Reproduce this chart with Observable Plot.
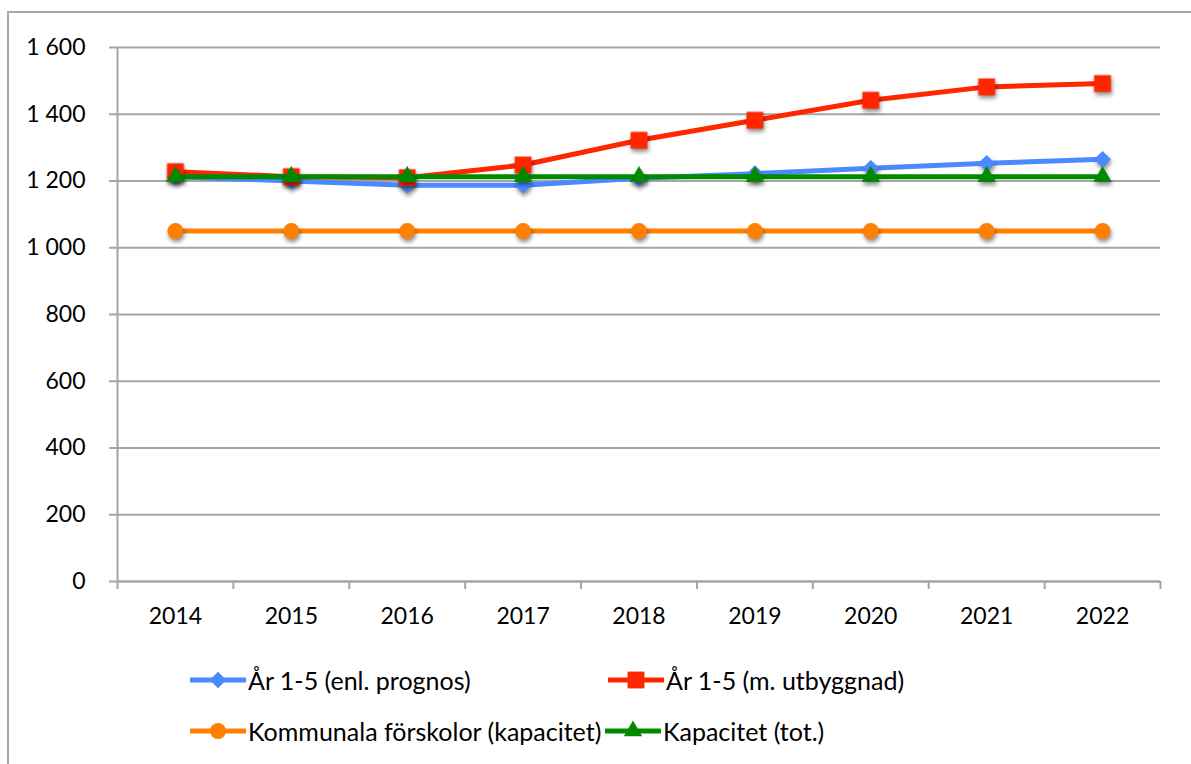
<!DOCTYPE html>
<html>
<head>
<meta charset="utf-8">
<script src="https://cdn.jsdelivr.net/npm/d3@7"></script>
<script src="https://cdn.jsdelivr.net/npm/@observablehq/plot@0.6"></script>
<style>
  html, body { margin: 0; padding: 0; background: #fff; }
  #wrap { position: relative; width: 1191px; height: 764px; overflow: hidden; font-family: Lato, "Open Sans", sans-serif; }
  #frame { position: absolute; left: 7px; top: 11px; width: 1300px; height: 900px; border: 2px solid #a8a8a8; box-sizing: border-box; }
  #chart { position: absolute; left: 0; top: 0; }
  #chart svg g[aria-label="dot"] { filter: drop-shadow(1px 3px 2px rgba(0,0,0,0.45)); }
  .leg { position: absolute; display: flex; align-items: center; font-size: 25px; color: #000; white-space: nowrap; }
  .leg svg { display: block; margin-right: 2px; }
</style>
</head>
<body>
<div id="wrap">
  <div id="frame"></div>
  <div id="chart"></div>
  <div id="legend"></div>
</div>
<script>
// ---- data ----
const years = [2014, 2015, 2016, 2017, 2018, 2019, 2020, 2021, 2022];
const prognos = [1213, 1200, 1187, 1187, 1208, 1222, 1238, 1253, 1265];
const utbyggnad = [1228, 1213, 1210, 1248, 1322, 1382, 1442, 1482, 1492];
const kommunala = [1050, 1050, 1050, 1050, 1050, 1050, 1050, 1050, 1050];
const kapacitet = [1213, 1213, 1213, 1213, 1213, 1213, 1213, 1213, 1213];
const seriesNames = ["År 1-5 (enl. prognos)", "År 1-5 (m. utbyggnad)", "Kommunala förskolor (kapacitet)", "Kapacitet (tot.)"];
const seriesValues = [prognos, utbyggnad, kommunala, kapacitet];
const seriesColors = ["#4a89ff", "#ff2600", "#ff8000", "#008a00"];
const seriesSymbols = ["diamond2", "square", "circle", "triangle"];
const seriesR = [7.5, 9.5, 8, 6.8];
const yTicks = [0, 200, 400, 600, 800, 1000, 1200, 1400, 1600];
const xBounds = [2013.5, 2014.5, 2015.5, 2016.5, 2017.5, 2018.5, 2019.5, 2020.5, 2021.5, 2022.5];

const rows = seriesValues.map((vals, i) => years.map((y, j) => ({series: seriesNames[i], year: y, value: vals[j]})));

const grid = "#a5a5a5";
const fmt = d => d3.format(",")(d).replace(/,/g, " ");

const marks = [
  Plot.gridY(yTicks, {stroke: grid, strokeOpacity: 1, strokeWidth: 2}),
  Plot.ruleX([2013.5], {stroke: grid, strokeWidth: 2}),
  Plot.ruleY([0], {stroke: grid, strokeWidth: 2}),
  Plot.axisY(yTicks, {tickSize: 8, tickPadding: 24, tickFormat: fmt, stroke: grid, strokeWidth: 2, fill: "#000", fontSize: 23, label: null}),
  Plot.axisX(xBounds, {tickSize: 8, tickFormat: () => "", stroke: grid, strokeWidth: 2, label: null}),
  Plot.axisX(years, {tickSize: 0, tickPadding: 26, tickFormat: d => String(d), fill: "#000", fontSize: 23, label: null})
];
rows.forEach((data, i) => {
  marks.push(Plot.line(data, {x: "year", y: "value", stroke: seriesColors[i], strokeWidth: 5}));
  marks.push(Plot.dot(data, {x: "year", y: "value", fill: seriesColors[i], symbol: seriesSymbols[i], r: seriesR[i], stroke: "none"}));
});

const chart = Plot.plot({
  width: 1191,
  height: 640,
  marginLeft: 117,
  marginRight: 31,
  marginTop: 47,
  marginBottom: 59,
  style: {fontFamily: "Lato, 'Open Sans', sans-serif", fontSize: "23px", color: "#000", background: "transparent"},
  x: {type: "linear", domain: [2013.5, 2022.5]},
  y: {domain: [0, 1600]},
  marks
});
document.getElementById("chart").appendChild(chart);

// ---- legend ----
const legPos = [[190, 680], [608, 680], [190, 731], [605, 731]];
const legend = document.getElementById("legend");
const symMap = {diamond2: d3.symbolDiamond2, square: d3.symbolSquare, circle: d3.symbolCircle, triangle: d3.symbolTriangle};
seriesNames.forEach((name, i) => {
  const item = document.createElement("div");
  item.className = "leg";
  item.style.left = legPos[i][0] + "px";
  item.style.top = (legPos[i][1] - 15) + "px";
  item.style.height = "30px";
  const path = d3.symbol(symMap[seriesSymbols[i]], Math.PI * seriesR[i] * seriesR[i])();
  item.innerHTML = `<svg width="56" height="30"><line x1="1" x2="55" y1="15" y2="15" stroke="${seriesColors[i]}" stroke-width="5" stroke-linecap="round"/><path transform="translate(28,15)" d="${path}" fill="${seriesColors[i]}"/></svg><span>${name}</span>`;
  legend.appendChild(item);
});
</script>
</body>
</html>
